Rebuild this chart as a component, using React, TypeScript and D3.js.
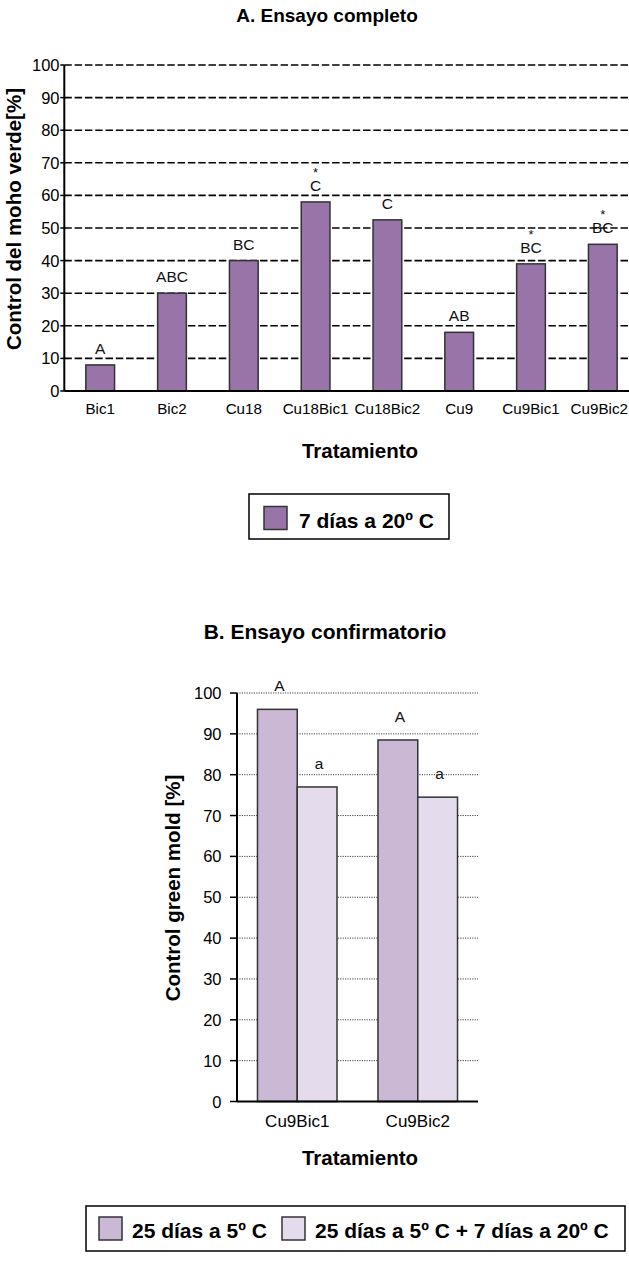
import React from "react";
import * as d3 from "d3";

const categoriesA = ["Bic1", "Bic2", "Cu18", "Cu18Bic1", "Cu18Bic2", "Cu9", "Cu9Bic1", "Cu9Bic2"];
const valuesA = [8, 30, 40, 58, 52.5, 18, 39, 45];
const lettersA = ["A", "ABC", "BC", "C", "C", "AB", "BC", "BC"];
const starsA = [false, false, false, true, false, false, true, true];
const ticksA = [0, 10, 20, 30, 40, 50, 60, 70, 80, 90, 100];
const legendA = "7 días a 20º C";

const categoriesB = ["Cu9Bic1", "Cu9Bic2"];
const seriesB = ["25 días a 5º C", "25 días a 5º C + 7 días a 20º C"];
const valuesB5 = [96, 88.5];
const valuesB20 = [77, 74.5];
const lettersB5 = ["A", "A"];
const lettersB20 = ["a", "a"];
const ticksB = [0, 10, 20, 30, 40, 50, 60, 70, 80, 90, 100];

const FONT = "Liberation Sans, Arial, Helvetica, sans-serif";
const colA = "#9874a8";
const colB = ["#cab8d5", "#e4dcec"];
const stroke = "#333";

export default function App() {
  // Chart A
  const axA = { left: 64.3, right: 638.7, top: 65, bottom: 391 };
  const xA = d3.scaleBand<string>().domain(categoriesA).range([axA.left, axA.right]).paddingInner(0.6).paddingOuter(0.3);
  const yA = d3.scaleLinear().domain([0, 100]).range([axA.bottom, axA.top]);

  // Chart B
  const axB = { left: 237, right: 478, top: 693, bottom: 1101.5 };
  const xB = d3.scaleBand<string>().domain(categoriesB).range([axB.left, axB.right]).paddingInner(0.34).paddingOuter(0.17);
  const xBi = d3.scaleBand<number>().domain([0, 1]).range([0, xB.bandwidth()]);
  const yB = d3.scaleLinear().domain([0, 100]).range([axB.bottom, axB.top]);
  const seriesValues = [valuesB5, valuesB20];
  const seriesLetters = [lettersB5, lettersB20];

  return (
    <svg width={629} height={1262} style={{ position: "absolute", left: 0, top: 0, background: "#fff" }} fontFamily={FONT}>
      <rect x={0} y={0} width={629} height={1262} fill="#fff" />
      {/* ---------- Chart A ---------- */}
      <text x={327} y={22} textAnchor="middle" fontWeight="bold" fontSize={19} fill="#000">A. Ensayo completo</text>
      {ticksA.filter((t) => t > 0).map((t) => (
        <line key={"ga" + t} x1={axA.left} x2={629} y1={yA(t)} y2={yA(t)} stroke="#000" strokeWidth={1.6} strokeDasharray="7.5,2.8" />
      ))}
      {ticksA.map((t) => (
        <g key={"ta" + t}>
          <line x1={axA.left - 4} x2={axA.left} y1={yA(t)} y2={yA(t)} stroke="#000" strokeWidth={1.5} />
          <text x={59.5} y={yA(t) + 6} textAnchor="end" fontSize={16.5} fill="#000">{t}</text>
        </g>
      ))}
      {categoriesA.map((c, i) => {
        const cx = xA(c)! + xA.bandwidth() / 2;
        const last = i === categoriesA.length - 1;
        return (
          <g key={"ba" + c}>
            <rect x={xA(c)} y={yA(valuesA[i])} width={xA.bandwidth()} height={yA(0) - yA(valuesA[i])} fill={colA} stroke={stroke} strokeWidth={1.5} />
            <text x={cx} y={yA(valuesA[i]) - 11} textAnchor="middle" fontSize={15.5} fill="#111">{lettersA[i]}</text>
            {starsA[i] && (
              <text x={cx} y={yA(valuesA[i]) - 25} textAnchor="middle" fontSize={13} fill="#111">*</text>
            )}
            <text x={last ? 628 : cx} y={414} textAnchor={last ? "end" : "middle"} fontSize={15.2} fill="#000">{c}</text>
          </g>
        );
      })}
      <line x1={axA.left} x2={axA.left} y1={axA.top} y2={axA.bottom} stroke="#000" strokeWidth={2} />
      <line x1={axA.left} x2={629} y1={axA.bottom} y2={axA.bottom} stroke="#000" strokeWidth={2.2} />
      <text transform={`translate(21,219) rotate(-90)`} textAnchor="middle" fontWeight="bold" fontSize={20.5} fill="#000">Control del moho verde[%]</text>
      <text x={360} y={458} textAnchor="middle" fontWeight="bold" fontSize={20.5} fill="#000">Tratamiento</text>
      <rect x={249} y={494} width={200} height={45} fill="#fff" stroke="#000" strokeWidth={1.5} />
      <rect x={264} y={506.5} width={23} height={23} fill={colA} stroke={stroke} strokeWidth={1.5} />
      <text x={299} y={527.5} fontWeight="bold" fontSize={21} fill="#000">{legendA}</text>

      {/* ---------- Chart B ---------- */}
      <text x={325} y={639} textAnchor="middle" fontWeight="bold" fontSize={21} fill="#000">B. Ensayo confirmatorio</text>
      {ticksB.filter((t) => t > 0).map((t) => (
        <line key={"gb" + t} x1={axB.left} x2={axB.right} y1={yB(t)} y2={yB(t)} stroke="#444" strokeWidth={1} strokeDasharray="1.2,1.2" />
      ))}
      {ticksB.map((t) => (
        <g key={"tb" + t}>
          <line x1={axB.left - 7} x2={axB.left} y1={yB(t)} y2={yB(t)} stroke="#000" strokeWidth={1.5} />
          <text x={221.5} y={yB(t) + 6} textAnchor="end" fontSize={16.5} fill="#000">{t}</text>
        </g>
      ))}
      {categoriesB.map((c, i) => (
        <g key={"bb" + c}>
          {[0, 1].map((s) => {
            const x = xB(c)! + xBi(s)!;
            const v = seriesValues[s][i];
            return (
              <g key={s}>
                <rect x={x} y={yB(v)} width={xBi.bandwidth()} height={yB(0) - yB(v)} fill={colB[s]} stroke={stroke} strokeWidth={1.5} />
                <text x={x + xBi.bandwidth() / 2 + 2} y={yB(v) - 18} textAnchor="middle" fontSize={15.5} fill="#111">{seriesLetters[s][i]}</text>
              </g>
            );
          })}
          <text x={xB(c)! + xB.bandwidth() / 2} y={1127} textAnchor="middle" fontSize={17} fill="#000">{c}</text>
        </g>
      ))}
      <line x1={axB.left} x2={axB.left} y1={axB.top} y2={axB.bottom} stroke="#000" strokeWidth={2} />
      <line x1={axB.left} x2={axB.right} y1={axB.bottom} y2={axB.bottom} stroke="#000" strokeWidth={2.2} />
      <text transform={`translate(180,888) rotate(-90)`} textAnchor="middle" fontWeight="bold" fontSize={20.5} fill="#000">Control green mold [%]</text>
      <text x={360} y={1165} textAnchor="middle" fontWeight="bold" fontSize={20.5} fill="#000">Tratamiento</text>
      <rect x={86} y={1206} width={539} height={45} fill="#fff" stroke="#000" strokeWidth={1.5} />
      {seriesB.map((s, i) => {
        const sx = i === 0 ? 99 : 282;
        return (
          <g key={"lb" + i}>
            <rect x={sx} y={1217} width={23} height={23} fill={colB[i]} stroke={stroke} strokeWidth={1.5} />
            <text x={sx + 33} y={1237.5} fontWeight="bold" fontSize={21} fill="#000">{s}</text>
          </g>
        );
      })}
    </svg>
  );
}
